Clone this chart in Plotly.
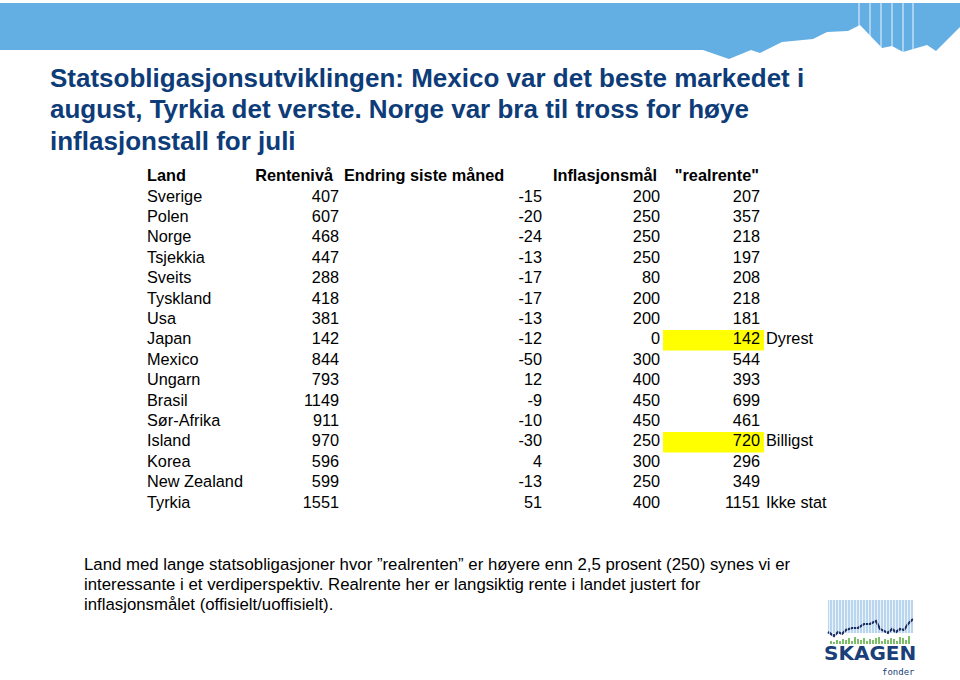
import plotly.graph_objects as go

# ---------------- data ----------------
land = ["Sverige", "Polen", "Norge", "Tsjekkia", "Sveits", "Tyskland", "Usa", "Japan",
        "Mexico", "Ungarn", "Brasil", "Sør-Afrika", "Island", "Korea", "New Zealand", "Tyrkia"]
rentenivaa = [407, 607, 468, 447, 288, 418, 381, 142, 844, 793, 1149, 911, 970, 596, 599, 1551]
endring = [-15, -20, -24, -13, -17, -17, -13, -12, -50, 12, -9, -10, -30, 4, -13, 51]
inflasjonsmaal = [200, 250, 250, 250, 80, 200, 200, 0, 300, 400, 450, 450, 250, 300, 250, 400]
realrente = [207, 357, 218, 197, 208, 218, 181, 142, 544, 393, 699, 461, 720, 296, 349, 1151]
merknad = ["", "", "", "", "", "", "", "Dyrest", "", "", "", "", "Billigst", "", "", "Ikke stat"]
uthevet = ["Japan", "Island"]
headers = ["Land", "Rentenivå", "Endring siste måned", "Inflasjonsmål", "\"realrente\""]

title_lines = ["Statsobligasjonsutviklingen: Mexico var det beste markedet i",
               "august, Tyrkia det verste. Norge var bra til tross for høye",
               "inflasjonstall for juli"]
footer_lines = ["Land med lange statsobligasjoner hvor \u201drealrenten\u201d er høyere enn 2,5 prosent (250) synes vi er",
                "interessante i et verdiperspektiv. Realrente her er langsiktig rente i landet justert for",
                "inflasjonsmålet (offisielt/uoffisielt)."]

# ---------------- layout constants ----------------
W, H = 960, 680
FONT = "Liberation Sans, Arial, sans-serif"
TXT = "#000000"
TITLE_C = "#0D3C78"
BANNER_C = "#63AEE2"
BODY = 16.3
ROW0, ROWH = 197.5, 20.4
HEAD_Y = 177
rows_y = [ROW0 + i * ROWH for i in range(len(land))]

fig = go.Figure()

# banner
banner_pts = [(0, 3), (960, 3), (960, 27), (936, 51), (927, 45), (903, 52), (892, 46), (882, 48),
              (860, 25), (848, 31), (827, 32), (813, 39), (782, 42), (760, 53), (751, 50),
              (729, 59), (703, 50), (0, 50)]
path = "M " + " L ".join(f"{x},{y}" for x, y in banner_pts) + " Z"
shapes = [dict(type="path", path=path, xref="x", yref="y", fillcolor=BANNER_C, line=dict(width=0), layer="below")]
line_bottom = {859: 27, 870: 37, 881: 47, 892: 46, 903: 52, 913: 49}
for vx, vb in line_bottom.items():
    shapes.append(dict(type="line", x0=vx, x1=vx, y0=3, y1=vb, xref="x", yref="y",
                       line=dict(color="rgba(255,255,255,0.75)", width=1.2)))

# yellow highlights
for name in uthevet:
    yc = rows_y[land.index(name)]
    shapes.append(dict(type="rect", x0=663, x1=764, y0=yc - 10.2, y1=yc + 10.2, xref="x", yref="y",
                       fillcolor="#FFFF00", line=dict(width=0), layer="below"))

# logo graphic
LX0, LX1, LY0, LY1 = 828, 913, 600, 645
shapes.append(dict(type="rect", x0=LX0, x1=LX1, y0=LY0, y1=LY1 - 12, xref="x", yref="y",
                   fillcolor="#B9D6EE", line=dict(width=0), layer="below"))
for k in range(0, 29):
    xx = LX0 + 1.5 + k * 3
    shapes.append(dict(type="line", x0=xx, x1=xx, y0=LY0, y1=LY1 - 4, xref="x", yref="y",
                       line=dict(color="rgba(255,255,255,0.7)", width=1)))
fig.update_layout(shapes=shapes)

# logo line and green bars (decoration)
logo_lx = [828, 834, 838, 842, 846, 852, 858, 864, 870, 876, 880, 884, 888, 892, 896, 900, 904, 908, 913]
logo_ly = [632, 636, 632, 634, 630, 628, 628, 624, 624, 621, 629, 631, 633, 629, 632, 629, 630, 624, 619]
fig.add_trace(go.Scatter(x=logo_lx, y=logo_ly, mode="lines", line=dict(color="#1B2F66", width=2.2),
                         hoverinfo="skip", showlegend=False))
bar_h = [3, 2, 4, 3, 5, 4, 6, 3, 7, 5, 4, 6, 3, 5, 4, 6, 7, 3, 5, 4, 6, 5, 3, 7, 6, 4, 8]
for k, hgt in enumerate(bar_h):
    xx = 831 + k * 3
    fig.add_shape(type="line", x0=xx, x1=xx, y0=644, y1=644 - hgt, xref="x", yref="y",
                  line=dict(color="#5DAE44", width=1.6))

# ---------------- table via text traces ----------------
def col(xs, ys, texts, pos, bold=False, size=BODY):
    fig.add_trace(go.Scatter(x=xs, y=ys, text=texts, mode="text", textposition=pos,
                             textfont=dict(family=FONT, size=size, color=TXT,
                                           weight="bold" if bold else "normal"),
                             hoverinfo="skip", showlegend=False))

n = len(land)
col([147] * n, rows_y, land, "middle right")
col([339] * n, rows_y, [str(v) for v in rentenivaa], "middle left")
col([542] * n, rows_y, [str(v) for v in endring], "middle left")
col([660] * n, rows_y, [str(v) for v in inflasjonsmaal], "middle left")
col([760] * n, rows_y, [str(v) for v in realrente], "middle left")
col([766] * n, rows_y, merknad, "middle right")

# headers
col([147], [HEAD_Y], [headers[0]], "middle right", bold=True)
col([333], [HEAD_Y], [headers[1]], "middle left", bold=True)
col([344], [HEAD_Y], [headers[2]], "middle right", bold=True)
col([657], [HEAD_Y], [headers[3]], "middle left", bold=True)
col([759], [HEAD_Y], [headers[4]], "middle left", bold=True)

# ---------------- title, footer, logo text ----------------
annots = []
for i, t in enumerate(title_lines):
    annots.append(dict(x=48, y=78 + i * 31.3, xref="x", yref="y", text=t, showarrow=False,
                       xanchor="left", yanchor="middle",
                       font=dict(family=FONT, size=26, color=TITLE_C, weight="bold")))
for i, t in enumerate(footer_lines):
    annots.append(dict(x=82, y=564 + i * 20.2, xref="x", yref="y", text=t, showarrow=False,
                       xanchor="left", yanchor="middle",
                       font=dict(family=FONT, size=16.8, color=TXT)))
annots.append(dict(x=870, y=653, xref="x", yref="y", text="SKAGEN", showarrow=False,
                   xanchor="center", yanchor="middle", borderpad=0,
                   font=dict(family="DejaVu Sans, sans-serif", size=20, color="#1B3F78", weight="bold")))
annots.append(dict(x=898, y=672, xref="x", yref="y", text="fonder", showarrow=False,
                   xanchor="center", yanchor="middle", borderpad=0,
                   font=dict(family="DejaVu Sans Mono, monospace", size=9, color="#1B3F78")))

fig.update_layout(
    width=W, height=H, autosize=False,
    margin=dict(l=0, r=0, t=0, b=0),
    paper_bgcolor="white", plot_bgcolor="white",
    xaxis=dict(range=[0, W], visible=False, fixedrange=True),
    yaxis=dict(range=[H, 0], visible=False, fixedrange=True),
    annotations=annots,
)

fig.write_html("out.html", config=dict(displayModeBar=False),
               post_script="document.body.style.margin='0';document.body.style.overflow='hidden';")
